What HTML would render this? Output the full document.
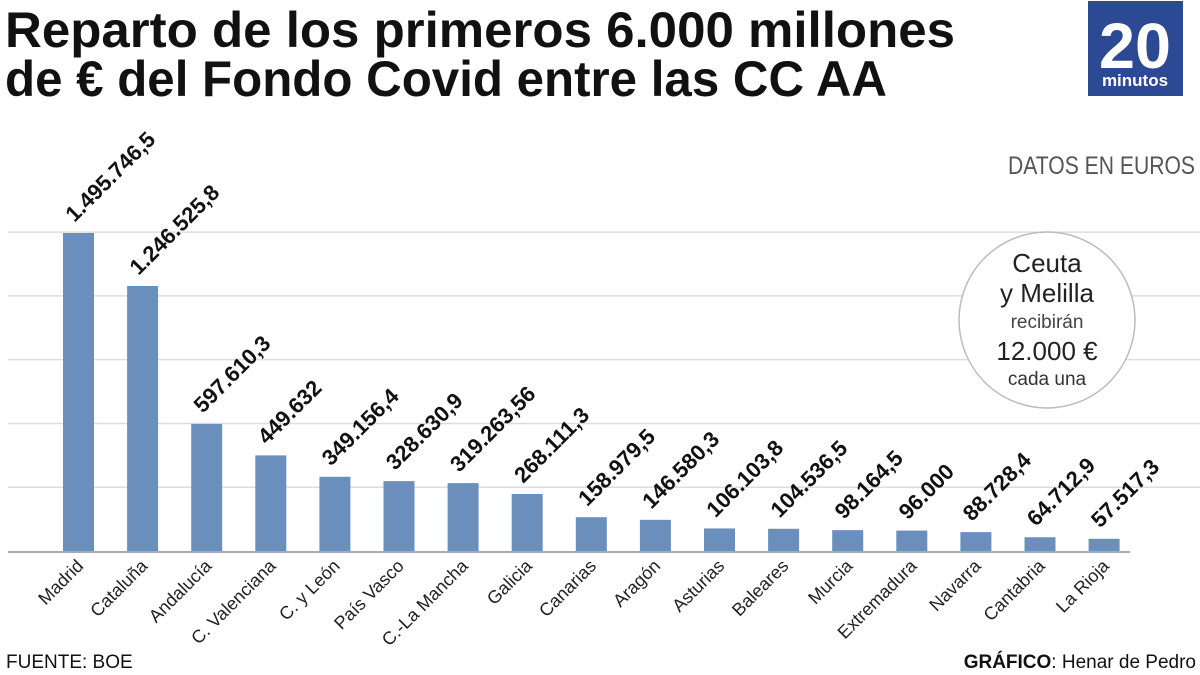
<!DOCTYPE html>
<html><head><meta charset="utf-8"><style>
html,body{margin:0;padding:0;background:#fff;}
svg{display:block;font-family:"Liberation Sans Narrow","Liberation Sans",sans-serif;}
</style></head><body>
<svg id="chart" width="1200" height="675" viewBox="0 0 1200 675">
<text x="5" y="47" font-size="50" font-weight="bold" textLength="950" lengthAdjust="spacingAndGlyphs" fill="#111">Reparto de los primeros 6.000 millones</text>
<text x="5" y="96" font-size="50" font-weight="bold" textLength="882" lengthAdjust="spacingAndGlyphs" fill="#111">de € del Fondo Covid entre las CC AA</text>
<g>
<rect x="1088" y="1" width="95" height="95" fill="#2b4a93"/>
<text x="1135" y="68" font-size="64" font-weight="bold" fill="#fff" text-anchor="middle" textLength="72" lengthAdjust="spacingAndGlyphs">20</text>
<text x="1135" y="86" font-size="17" font-weight="bold" fill="#fff" text-anchor="middle">minutos</text>
</g>
<text x="1195" y="174" font-size="25" fill="#555" text-anchor="end" textLength="187" lengthAdjust="spacingAndGlyphs">DATOS EN EUROS</text>
<g id="grid"></g>
<g>
<circle cx="1047" cy="320" r="88" fill="#fff" stroke="#bbb" stroke-width="1.5"/>
<text x="1047" y="272" font-size="26" fill="#222" text-anchor="middle">Ceuta</text>
<text x="1047" y="302" font-size="26" fill="#222" text-anchor="middle">y Melilla</text>
<text x="1047" y="328" font-size="19" fill="#444" text-anchor="middle">recibirán</text>
<text x="1047" y="360" font-size="26" fill="#222" text-anchor="middle">12.000 €</text>
<text x="1047" y="385" font-size="19" fill="#333" text-anchor="middle">cada una</text>
</g>
<g id="bars"></g>
<text x="6" y="668" font-size="19" fill="#111">FUENTE: BOE</text>
<text x="1196" y="668" font-size="19" fill="#111" text-anchor="end"><tspan font-weight="bold">GRÁFICO</tspan>: Henar de Pedro</text>
</svg>
<script>
const categories = ["Madrid","Cataluña","Andalucía","C. Valenciana","C. y León","País Vasco","C.-La Mancha","Galicia","Canarias","Aragón","Asturias","Baleares","Murcia","Extremadura","Navarra","Cantabria","La Rioja"];
const values = [1495746.5,1246525.8,597610.3,449632,349156.4,328630.9,319263.56,268111.3,158979.5,146580.3,106103.8,104536.5,98164.5,96000,88728.4,64712.9,57517.3];
const valueLabels = ["1.495.746,5","1.246.525,8","597.610,3","449.632","349.156,4","328.630,9","319.263,56","268.111,3","158.979,5","146.580,3","106.103,8","104.536,5","98.164,5","96.000","88.728,4","64.712,9","57.517,3"];
const gridValues = [300000,600000,900000,1200000,1500000];
const NS="http://www.w3.org/2000/svg";
const baseY=551, pxPer=318/1495746.5, x0=63, step=64.1, bw=31;
const y = v => baseY - v*pxPer;
const xb = i => x0 + i*step;
const grid=document.getElementById('grid'), bars=document.getElementById('bars');
function mk(tag,attrs,parent){const e=document.createElementNS(NS,tag);for(const k in attrs)e.setAttribute(k,attrs[k]);parent.appendChild(e);return e;}
gridValues.forEach(v=>{
  const l=mk('line',{x1:8,x2:1200,y1:y(v),y2:y(v),stroke:'#ddd','stroke-width':1.5},grid);
  
  
});
categories.forEach((c,i)=>{
  const r=mk('rect',{x:xb(i),y:y(values[i]),width:bw,height:baseY-y(values[i]),fill:'#6a8fbd'},bars);
  
  
  const cx=xb(i)+bw/2;
  const t=mk('text',{x:0,y:0,'font-size':22,'font-weight':'bold',fill:'#111',transform:`translate(${cx-4},${y(values[i])-10}) rotate(-45)`},bars);
  t.textContent=valueLabels[i];
  
  
  const cl=mk('text',{x:0,y:0,'font-size':18,fill:'#222','text-anchor':'end',transform:`translate(${cx+6},${baseY+16}) rotate(-45)`},bars);
  cl.textContent=c;
  
  
});
const ax=mk('line',{x1:8,x2:1130,y1:baseY+1,y2:baseY+1,stroke:'#aaa','stroke-width':2},bars);


</script>
</body></html>
